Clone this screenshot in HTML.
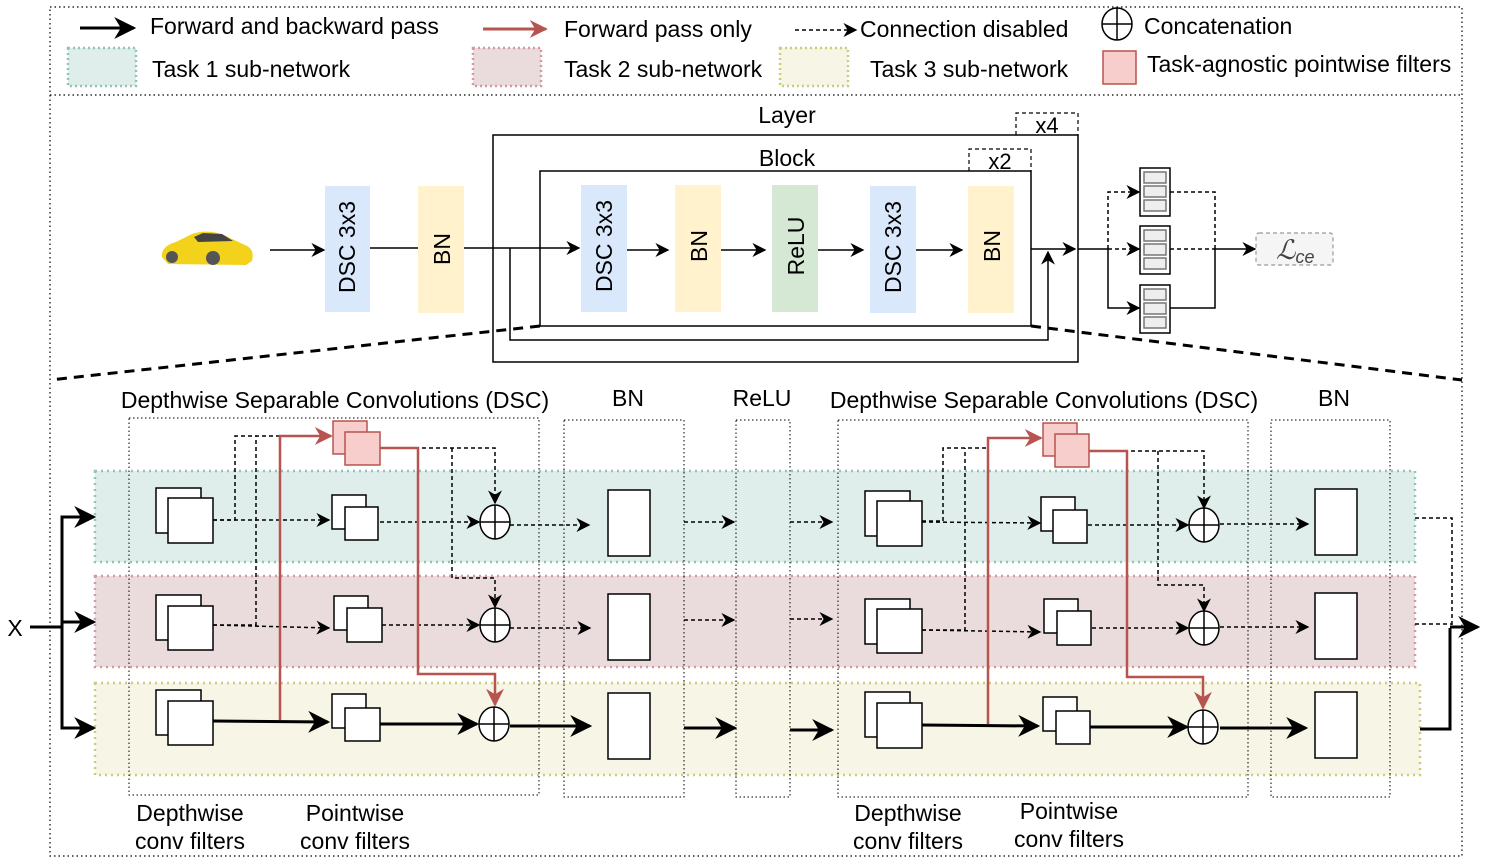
<!DOCTYPE html>
<html><head><meta charset="utf-8"><style>
html,body{margin:0;padding:0;background:#fff}
svg{display:block}
text{font-family:"Liberation Sans",sans-serif;fill:#000}
</style></head><body>
<svg width="1495" height="860" viewBox="0 0 1495 860" xmlns="http://www.w3.org/2000/svg">
<defs>
<marker id="a" viewBox="0 0 10 10" refX="9" refY="5" markerWidth="7" markerHeight="7" markerUnits="userSpaceOnUse" orient="auto"><path d="M0,0 L10,5 L0,10 L3,5z" fill="#000"/></marker>
<marker id="ab" viewBox="0 0 10 10" refX="9" refY="5" markerWidth="22" markerHeight="22" markerUnits="userSpaceOnUse" orient="auto"><path d="M0,0 L10,5 L0,10 L3,5z" fill="#000"/></marker>
<marker id="am" viewBox="0 0 10 10" refX="9" refY="5" markerWidth="14" markerHeight="14" markerUnits="userSpaceOnUse" orient="auto"><path d="M0,0 L10,5 L0,10 L3,5z" fill="#000"/></marker>
<marker id="ar" viewBox="0 0 10 10" refX="9" refY="5" markerWidth="18" markerHeight="18" markerUnits="userSpaceOnUse" orient="auto"><path d="M0,0 L10,5 L0,10 L3,5z" fill="#b85450"/></marker>
</defs>

<rect x="50" y="7" width="1412" height="849" fill="none" stroke="#000" stroke-width="1.2" stroke-dasharray="1.5,3"/>
<line x1="50" y1="95" x2="1462" y2="95" stroke="#000" stroke-width="1.2" stroke-dasharray="1.5,3"/>

<g font-size="23">
<line x1="80" y1="28" x2="134" y2="28" stroke="#000" stroke-width="3" marker-end="url(#ab)"/>
<text x="150" y="34">Forward and backward pass</text>
<line x1="483" y1="29" x2="546" y2="29" stroke="#b85450" stroke-width="3" marker-end="url(#ar)"/>
<text x="564" y="37">Forward pass only</text>
<line x1="795" y1="30" x2="856" y2="30" stroke="#000" stroke-width="1.5" stroke-dasharray="4,3" marker-end="url(#am)"/>
<text x="860" y="37">Connection disabled</text>
<ellipse cx="1117" cy="24" rx="15" ry="16" fill="#fff" stroke="#000" stroke-width="1.5"/>
<line x1="1102" y1="24" x2="1132" y2="24" stroke="#000" stroke-width="1.5"/><line x1="1117" y1="8" x2="1117" y2="40" stroke="#000" stroke-width="1.5"/>
<text x="1144" y="34">Concatenation</text>
<rect x="68" y="48" width="68" height="38" fill="#dfeeea" stroke="#8fc4b8" stroke-width="2.5" stroke-dasharray="2,3"/>
<text x="152" y="77">Task 1 sub-network</text>
<rect x="473" y="48" width="68" height="38" fill="#eadcdc" stroke="#d49aa0" stroke-width="2.5" stroke-dasharray="2,3"/>
<text x="564" y="77">Task 2 sub-network</text>
<rect x="780" y="48" width="68" height="38" fill="#f6f5e6" stroke="#cccc7a" stroke-width="2.5" stroke-dasharray="2,3"/>
<text x="870" y="77">Task 3 sub-network</text>
<rect x="1103" y="51" width="33" height="33" fill="#f8cecc" stroke="#b85450" stroke-width="1.5"/>
<text x="1147" y="72">Task-agnostic pointwise filters</text>
</g>

<g>
<path d="M162,257 C161,249 168,244 176,242 L192,234 C203,230 218,231 230,238 L245,245 C252,248 254,253 252,261 L246,265 L168,264 Z" fill="#f2d21a"/>
<path d="M194,237 L203,233 L222,234 L233,241 L198,242 Z" fill="#444"/>
<circle cx="172" cy="257" r="6" fill="#555"/><circle cx="213" cy="258" r="7" fill="#555"/>
<line x1="270" y1="250" x2="324" y2="250" stroke="#000" stroke-width="1.5" marker-end="url(#am)"/>
<rect x="325" y="186" width="45" height="126" fill="#dae8fc"/>
<text transform="translate(355,247) rotate(-90)" font-size="23" text-anchor="middle">DSC 3x3</text>
<line x1="370" y1="248" x2="418" y2="248" stroke="#000" stroke-width="1.5"/>
<rect x="418" y="186" width="46" height="127" fill="#fff2cc"/>
<text transform="translate(450,249) rotate(-90)" font-size="23" text-anchor="middle">BN</text>
<line x1="464" y1="248" x2="579" y2="248" stroke="#000" stroke-width="1.5" marker-end="url(#am)"/>

<rect x="493" y="135" width="585" height="227" fill="none" stroke="#000" stroke-width="1.5"/>
<text x="787" y="123" font-size="23" text-anchor="middle">Layer</text>
<path d="M1016,135 V113 H1078 V135" fill="none" stroke="#000" stroke-width="1.2" stroke-dasharray="4,3"/>
<text x="1047" y="133" font-size="22" text-anchor="middle">x4</text>
<rect x="540" y="171" width="491" height="155" fill="none" stroke="#000" stroke-width="1.5"/>
<text x="787" y="166" font-size="23" text-anchor="middle">Block</text>
<path d="M969,171 V149 H1031 V171" fill="none" stroke="#000" stroke-width="1.2" stroke-dasharray="4,3"/>
<text x="1000" y="169" font-size="22" text-anchor="middle">x2</text>
<path d="M510,248 V340 H1048 V252" fill="none" stroke="#000" stroke-width="1.5" marker-end="url(#am)"/>

<rect x="581" y="185" width="46" height="127" fill="#dae8fc"/>
<text transform="translate(612,246) rotate(-90)" font-size="23" text-anchor="middle">DSC 3x3</text>
<line x1="627" y1="250" x2="668" y2="250" stroke="#000" stroke-width="1.5" marker-end="url(#am)"/>
<rect x="675" y="185" width="46" height="127" fill="#fff2cc"/>
<text transform="translate(707,246) rotate(-90)" font-size="23" text-anchor="middle">BN</text>
<line x1="721" y1="250" x2="765" y2="250" stroke="#000" stroke-width="1.5" marker-end="url(#am)"/>
<rect x="772" y="185" width="46" height="127" fill="#d5e8d4"/>
<text transform="translate(804,246) rotate(-90)" font-size="23" text-anchor="middle">ReLU</text>
<line x1="818" y1="250" x2="863" y2="250" stroke="#000" stroke-width="1.5" marker-end="url(#am)"/>
<rect x="870" y="186" width="46" height="127" fill="#dae8fc"/>
<text transform="translate(901,247) rotate(-90)" font-size="23" text-anchor="middle">DSC 3x3</text>
<line x1="916" y1="250" x2="962" y2="250" stroke="#000" stroke-width="1.5" marker-end="url(#am)"/>
<rect x="968" y="186" width="46" height="127" fill="#fff2cc"/>
<text transform="translate(1000,246) rotate(-90)" font-size="23" text-anchor="middle">BN</text>
<line x1="1031" y1="249" x2="1075" y2="249" stroke="#000" stroke-width="1.5" marker-end="url(#am)"/>

<line x1="1078" y1="249" x2="1108" y2="249" stroke="#000" stroke-width="1.5"/>
<path d="M1108,249 V192 H1139" fill="none" stroke="#000" stroke-width="1.5" stroke-dasharray="4,3" marker-end="url(#am)"/>
<line x1="1108" y1="249" x2="1139" y2="249" stroke="#000" stroke-width="1.5" stroke-dasharray="4,3" marker-end="url(#am)"/>
<path d="M1108,249 V308 H1139" fill="none" stroke="#000" stroke-width="1.5" marker-end="url(#am)"/>
<g stroke="#000" stroke-width="1.5" fill="#fff">
<rect x="1140" y="168" width="30" height="48"/><rect x="1140" y="226" width="30" height="48"/><rect x="1140" y="285" width="30" height="48"/>
</g>
<g stroke="#777" stroke-width="1.5" fill="#eee">
<rect x="1144" y="172" width="22" height="11"/><rect x="1144" y="186" width="22" height="11"/><rect x="1144" y="200" width="22" height="11"/>
<rect x="1144" y="230" width="22" height="11"/><rect x="1144" y="244" width="22" height="11"/><rect x="1144" y="258" width="22" height="11"/>
<rect x="1144" y="289" width="22" height="11"/><rect x="1144" y="303" width="22" height="11"/><rect x="1144" y="317" width="22" height="11"/>
</g>
<path d="M1170,192 H1215 V249" fill="none" stroke="#000" stroke-width="1.5" stroke-dasharray="4,3"/>
<line x1="1170" y1="249" x2="1215" y2="249" stroke="#000" stroke-width="1.5" stroke-dasharray="4,3"/>
<path d="M1170,308 H1215 V249" fill="none" stroke="#000" stroke-width="1.5"/>
<line x1="1215" y1="249" x2="1255" y2="249" stroke="#000" stroke-width="1.5" marker-end="url(#am)"/>
<rect x="1256" y="233" width="77" height="32" rx="3" fill="#f5f5f5" stroke="#999" stroke-width="1.2" stroke-dasharray="4,3"/>
<text x="1276" y="259" font-size="27" font-family="Liberation Serif" font-style="italic" style="fill:#444">ℒ<tspan font-size="18" dy="4">ce</tspan></text>
</g>

<line x1="540" y1="326" x2="50" y2="380" stroke="#000" stroke-width="3" stroke-dasharray="10,7"/>
<line x1="1031" y1="326" x2="1462" y2="380" stroke="#000" stroke-width="3" stroke-dasharray="10,7"/>

<g font-size="23" text-anchor="middle">
<text x="335" y="408">Depthwise Separable Convolutions (DSC)</text>
<text x="628" y="406">BN</text>
<text x="762" y="406">ReLU</text>
<text x="1044" y="408">Depthwise Separable Convolutions (DSC)</text>
<text x="1334" y="406">BN</text>
<text x="190" y="821">Depthwise</text><text x="190" y="849">conv filters</text>
<text x="355" y="821">Pointwise</text><text x="355" y="849">conv filters</text>
<text x="908" y="821">Depthwise</text><text x="908" y="849">conv filters</text>
<text x="1069" y="819">Pointwise</text><text x="1069" y="847">conv filters</text>
</g>

<rect x="95" y="471" width="1320" height="91" fill="#dfeeea" stroke="#8fc4b8" stroke-width="2.5" stroke-dasharray="2,4"/>
<rect x="95" y="576" width="1320" height="91" fill="#eadcdc" stroke="#d49aa0" stroke-width="2.5" stroke-dasharray="2,4"/>
<rect x="95" y="683" width="1325" height="92" fill="#f6f5e6" stroke="#cccc7a" stroke-width="2.5" stroke-dasharray="2,4"/>

<g fill="none" stroke="#000" stroke-width="1" stroke-dasharray="1.5,2.5">
<rect x="129" y="418" width="410" height="377"/>
<rect x="564" y="420" width="120" height="377"/>
<rect x="736" y="420" width="54" height="377"/>
<rect x="838" y="420" width="410" height="377"/>
<rect x="1271" y="420" width="119" height="377"/>
</g>

<text x="15" y="636" font-size="23" text-anchor="middle">X</text>
<line x1="30" y1="627" x2="62" y2="627" stroke="#000" stroke-width="3"/>
<path d="M93,517 H62 V728 H93" fill="none" stroke="#000" stroke-width="3"/>
<line x1="62" y1="517" x2="94" y2="517" stroke="#000" stroke-width="3" marker-end="url(#ab)"/>
<line x1="62" y1="622" x2="94" y2="622" stroke="#000" stroke-width="3" marker-end="url(#ab)"/>
<line x1="62" y1="728" x2="94" y2="728" stroke="#000" stroke-width="3" marker-end="url(#ab)"/>

<g fill="none" stroke="#000" stroke-width="1.5" stroke-dasharray="4,3">
<path d="M213,520 H235 V436 H280"/>
<path d="M213,625 H256 V436"/>
<line x1="213" y1="520" x2="329" y2="520" marker-end="url(#am)"/>
<line x1="213" y1="625" x2="329" y2="628" marker-end="url(#am)"/>
<line x1="380" y1="522" x2="479" y2="522" marker-end="url(#am)"/>
<line x1="382" y1="625" x2="479" y2="625" marker-end="url(#am)"/>
<path d="M380,448 H495 V503" marker-end="url(#am)"/>
<path d="M452,448 V578 H495 V607" marker-end="url(#am)"/>
<line x1="510" y1="525" x2="589" y2="525" marker-end="url(#am)"/>
<line x1="510" y1="628" x2="590" y2="628" marker-end="url(#am)"/>
<line x1="684" y1="522" x2="734" y2="522" marker-end="url(#am)"/>
<line x1="684" y1="620" x2="734" y2="620" marker-end="url(#am)"/>
<line x1="790" y1="522" x2="832" y2="522" marker-end="url(#am)"/>
<line x1="790" y1="619" x2="832" y2="619" marker-end="url(#am)"/>
</g>
<g fill="none" stroke="#000" stroke-width="3">
<line x1="213" y1="721" x2="328" y2="722" marker-end="url(#ab)"/>
<line x1="380" y1="724" x2="477" y2="724" marker-end="url(#ab)"/>
<line x1="510" y1="726" x2="590" y2="726" marker-end="url(#ab)"/>
<line x1="684" y1="728" x2="735" y2="728" marker-end="url(#ab)"/>
<line x1="790" y1="730" x2="832" y2="730" marker-end="url(#ab)"/>
</g>

<g fill="none" stroke="#000" stroke-width="1.5" stroke-dasharray="4,3">
<path d="M922,521 H943 V448 H988"/>
<path d="M922,630 H965 V448"/>
<line x1="922" y1="522" x2="1040" y2="523" marker-end="url(#am)"/>
<line x1="922" y1="630" x2="1040" y2="632" marker-end="url(#am)"/>
<line x1="1088" y1="525" x2="1188" y2="525" marker-end="url(#am)"/>
<line x1="1092" y1="628" x2="1188" y2="628" marker-end="url(#am)"/>
<path d="M1089,451 H1204 V508" marker-end="url(#am)"/>
<path d="M1158,451 V585 H1204 V611" marker-end="url(#am)"/>
<line x1="1220" y1="524" x2="1308" y2="524" marker-end="url(#am)"/>
<line x1="1220" y1="627" x2="1308" y2="627" marker-end="url(#am)"/>
<path d="M1415,518 H1452 V628"/>
<line x1="1415" y1="624" x2="1452" y2="624"/>
</g>
<g fill="none" stroke="#000" stroke-width="3">
<line x1="922" y1="725" x2="1038" y2="726" marker-end="url(#ab)"/>
<line x1="1088" y1="727" x2="1187" y2="727" marker-end="url(#ab)"/>
<line x1="1220" y1="728" x2="1306" y2="728" marker-end="url(#ab)"/>
<path d="M1420,729 H1450 V628"/>
<line x1="1450" y1="627" x2="1478" y2="627" marker-end="url(#ab)"/>
</g>

<g fill="#fff" stroke="#000" stroke-width="1.5">
<rect x="156" y="488" width="45" height="45"/><rect x="168" y="498" width="45" height="45"/>
<rect x="156" y="595" width="45" height="45"/><rect x="168" y="606" width="45" height="44"/>
<rect x="156" y="690" width="45" height="45"/><rect x="168" y="701" width="45" height="44"/>
<rect x="332" y="495" width="34" height="34"/><rect x="345" y="507" width="33" height="33"/>
<rect x="334" y="596" width="34" height="34"/><rect x="347" y="608" width="35" height="34"/>
<rect x="332" y="694" width="34" height="34"/><rect x="345" y="708" width="35" height="33"/>
<rect x="608" y="490" width="42" height="66"/><rect x="608" y="594" width="42" height="66"/><rect x="608" y="693" width="42" height="66"/>

<rect x="865" y="491" width="45" height="45"/><rect x="877" y="501" width="45" height="45"/>
<rect x="865" y="599" width="45" height="45"/><rect x="877" y="609" width="45" height="44"/>
<rect x="865" y="692" width="45" height="45"/><rect x="877" y="703" width="45" height="45"/>
<rect x="1041" y="497" width="34" height="34"/><rect x="1053" y="510" width="34" height="33"/>
<rect x="1044" y="599" width="34" height="34"/><rect x="1057" y="611" width="34" height="34"/>
<rect x="1043" y="697" width="34" height="34"/><rect x="1056" y="711" width="34" height="33"/>
<rect x="1315" y="489" width="42" height="66"/><rect x="1315" y="593" width="42" height="66"/><rect x="1315" y="692" width="42" height="66"/>
</g>

<g fill="#fff" stroke="#000" stroke-width="1.5">
<ellipse cx="495" cy="522" rx="15" ry="17"/><path d="M480,522 H510 M495,505 V539"/>
<ellipse cx="495" cy="625" rx="15" ry="17"/><path d="M480,625 H510 M495,608 V642"/>
<ellipse cx="494" cy="724" rx="15" ry="17"/><path d="M479,724 H509 M494,707 V741"/>
<ellipse cx="1204" cy="525" rx="15" ry="17"/><path d="M1189,525 H1219 M1204,508 V542"/>
<ellipse cx="1204" cy="628" rx="15" ry="17"/><path d="M1189,628 H1219 M1204,611 V645"/>
<ellipse cx="1203" cy="727" rx="15" ry="17"/><path d="M1188,727 H1218 M1203,710 V744"/>
</g>

<g fill="none" stroke="#b85450" stroke-width="2.5">
<path d="M280,720 V436 H331" marker-end="url(#ar)"/>
<path d="M380,448 H418 V674 H495 V705" marker-end="url(#ar)"/>
<path d="M988,724 V438 H1041" marker-end="url(#ar)"/>
<path d="M1089,451 H1127 V677 H1203 V708" marker-end="url(#ar)"/>
</g>
<g fill="#f8cecc" stroke="#b85450" stroke-width="1.5">
<rect x="333" y="421" width="34" height="33"/><rect x="345" y="432" width="35" height="33"/>
<rect x="1043" y="423" width="34" height="33"/><rect x="1055" y="434" width="34" height="33"/>
</g>
</svg>
</body></html>
